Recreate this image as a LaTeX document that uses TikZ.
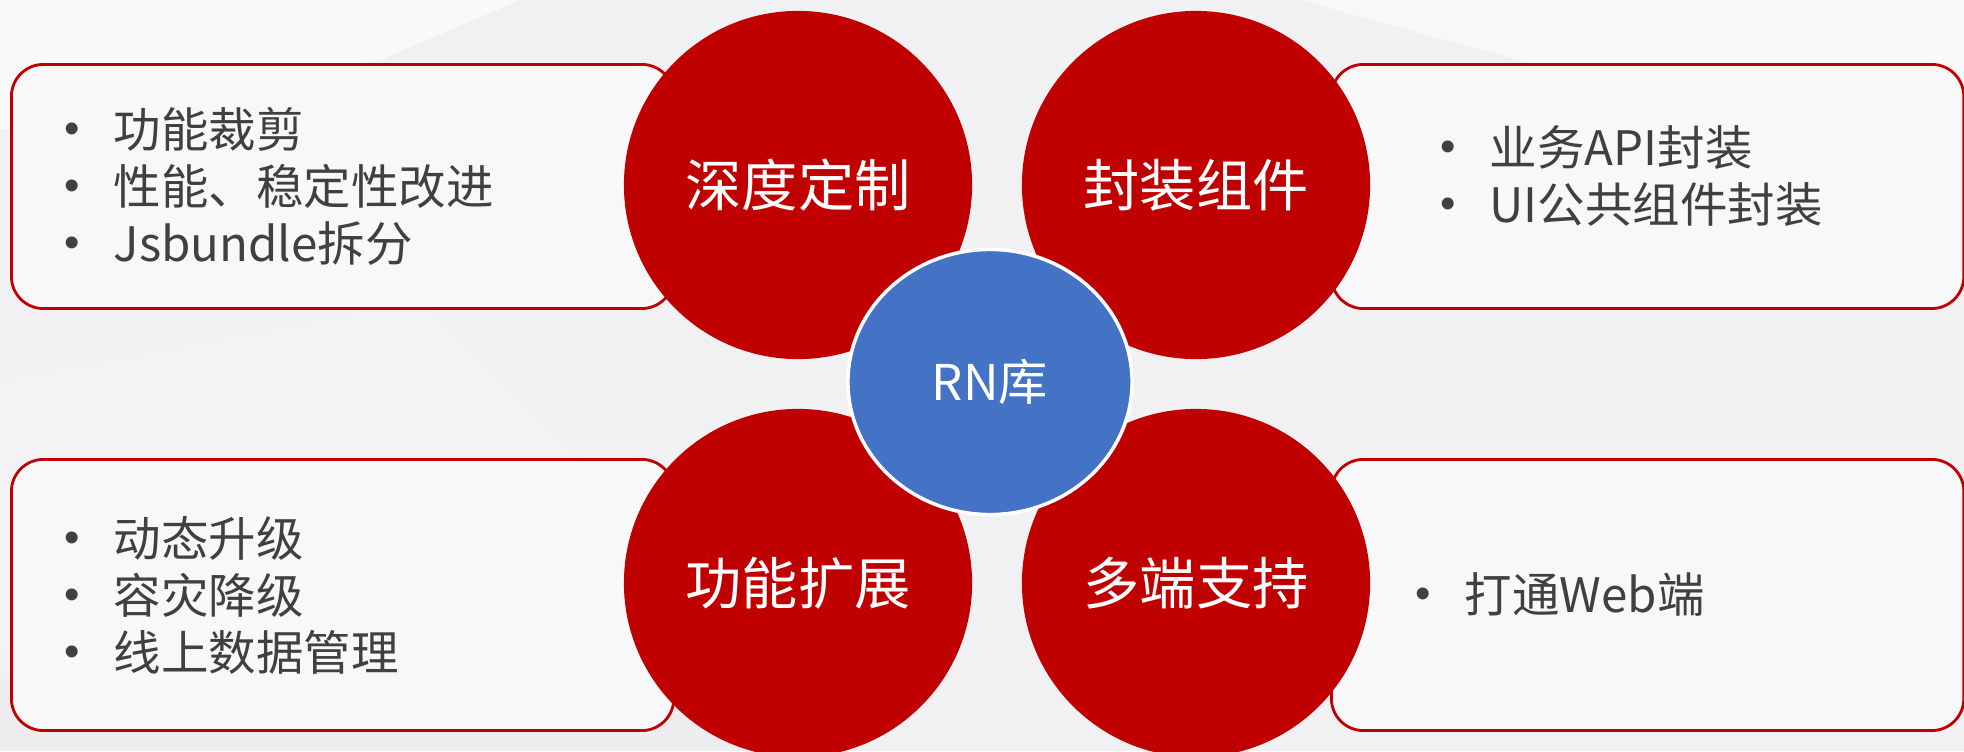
\documentclass[tikz,border=0pt]{standalone}
\usepackage{fontspec}
\setmainfont{Noto Sans CJK SC}
\newfontfamily\bulfont{Liberation Sans}
\usetikzlibrary{shapes.geometric}
\definecolor{rnred}{HTML}{C00000}
\definecolor{rnblue}{HTML}{4472C4}
\definecolor{rntext}{HTML}{404040}
\definecolor{rnbg}{HTML}{F1F1F3}
\definecolor{rnbox}{HTML}{F8F8FA}
\newcommand{\bul}{\makebox[0.49cm][l]{\raisebox{1.1pt}{\fontsize{12.5}{12.5}\bulfont •}}}

\begin{document}
\begin{tikzpicture}[x={(0.01cm,0cm)},y={(0cm,-0.01cm)},
  listbox/.style={draw=rnred,line width=0.8pt,fill=rnbox,rounded corners=0.32cm,anchor=north west,inner sep=0pt},
  petal/.style={circle,fill=rnred,minimum size=3.48cm,inner sep=0pt,text=white,font=\fontsize{16}{18}\selectfont},
  items/.style={anchor=west,align=left,text=rntext,inner sep=0pt,font=\fontsize{13.5}{16.2}\selectfont}]
\useasboundingbox (0,0) rectangle (1964,751);
\clip (0,0) rectangle (1964,751);
\fill[rnbg] (0,0) rectangle (1964,751);
\fill[white,opacity=0.6] (0,0) -- (520,0) -- (380,60) -- (0,130) -- cycle;
\fill[white,opacity=0.5] (1300,0) -- (1964,0) -- (1964,260) -- (1700,110) -- cycle;
\fill[white,opacity=0.2] (0,380) -- (420,300) -- (640,520) -- (0,650) -- cycle;
\fill[white,opacity=0.5] (1330,520) -- (1620,470) -- (1964,560) -- (1964,700) -- (1550,600) -- cycle;
\fill[gray,opacity=0.03] (0,751) -- (0,680) -- (640,560) -- (800,751) -- cycle;
\node[listbox,minimum width=6.62cm,minimum height=2.44cm] (tlbox) at (10,63) {};
\node[listbox,minimum width=6.32cm,minimum height=2.44cm] (trbox) at (1330,63) {};
\node[listbox,minimum width=6.62cm,minimum height=2.71cm] (blbox) at (10,458) {};
\node[listbox,minimum width=6.32cm,minimum height=2.71cm] (brbox) at (1330,458) {};
\node[petal] (shendu) at (798,185) {深度定制};
\node[petal] (fengzhuang) at (1196,185) {封装组件};
\node[petal] (kuozhan) at (798,583) {功能扩展};
\node[petal] (duoduan) at (1196,583) {多端支持};
\node[ellipse,fill=rnblue,draw=white,line width=1pt,minimum width=2.84cm,minimum height=2.65cm,
  text=white,font=\fontsize{14}{16}\selectfont] (rnku) at (990,382) {RN库};
\node[items] (tltext) at (64,186) {\bul 功能裁剪\\ \bul 性能、稳定性改进\\ \bul Jsbundle拆分};
\node[items] (trtext) at (1440,176) {\bul 业务API封装\\ \bul UI公共组件封装};
\node[items] (bltext) at (64,595) {\bul 动态升级\\ \bul 容灾降级\\ \bul 线上数据管理};
\node[items] (brtext) at (1415,594) {\bul 打通Web端};
\end{tikzpicture}
\end{document}
